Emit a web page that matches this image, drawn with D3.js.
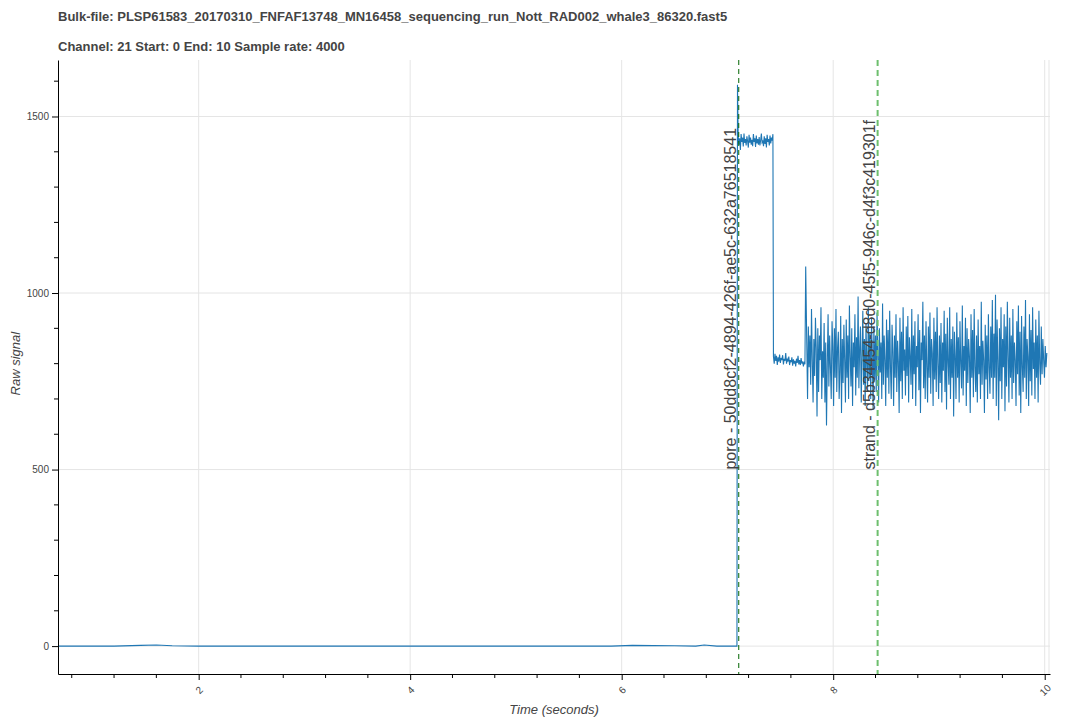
<!DOCTYPE html>
<html>
<head>
<meta charset="utf-8">
<script src="https://cdn.jsdelivr.net/npm/d3@7"></script>
<style>
  body { margin: 0; background: #fff; }
  text { font-family: "Liberation Sans", Helvetica, Arial, sans-serif; }
</style>
</head>
<body>
<svg id="chart" width="1080" height="720"></svg>
<script>
var titleText = 'Bulk-file: PLSP61583_20170310_FNFAF13748_MN16458_sequencing_run_Nott_RAD002_whale3_86320.fast5',
    subtitleText = 'Channel: 21 Start: 0 End: 10 Sample rate: 4000';

// open channel, before anything enters (time, signal)
var baseTimes = [0.67, 1.2, 1.45, 1.6, 1.75, 2.0, 3.0, 4.0, 5.0, 5.9, 6.1, 6.5, 6.7, 6.78, 6.9, 7.09];
var baseValues = [0, 0, 2, 3, 1, 0, 0, 0, 0, 0, 2, 1, 0, 3, 0, 0];

// open pore plateau, 7.095 -> 7.43 s
var poreStart = 7.095, poreEnd = 7.43;
var poreValues = [1590, 1445, 1420, 1438, 1405, 1450, 1428, 1440, 1415, 1452,
    1425, 1436, 1418, 1444, 1430, 1412, 1448, 1426, 1440, 1420,
    1434, 1416, 1450, 1428, 1438, 1414, 1446, 1424, 1436, 1420,
    1442, 1418, 1432, 1452, 1426, 1430, 1416, 1444, 1422, 1438,
    1412, 1448, 1428, 1436, 1418, 1446, 1424, 1440, 1432, 1450];

// lower step, 7.435 -> 7.74 s
var stepStart = 7.435, stepEnd = 7.74;
var stepValues = [820, 800, 828, 808, 822, 796, 818, 806, 826, 802,
    816, 810, 824, 798, 814, 808, 830, 800, 812, 806,
    820, 796, 810, 804, 818, 794, 812, 800, 808, 792,
    814, 802, 822, 798, 810, 796, 816, 800, 806, 792,
    806, 798, 1075];

// strand translocation, 7.75 -> 10.02 s
var strandStart = 7.75, strandEnd = 10.02;
var strandValues = [860, 700, 905, 790, 880, 740, 955, 812, 690, 870,
    765, 930, 845, 650, 900, 720, 880, 810, 960, 700,
    835, 760, 915, 690, 860, 625, 800, 940, 735, 880,
    790, 700, 920, 850, 680, 900, 760, 955, 720, 845,
    890, 700, 780, 935, 660, 870, 745, 910, 810, 690,
    925, 760, 880, 700, 965, 820, 735, 900, 680, 860,
    790, 940, 710, 875, 760, 990, 730, 845, 905, 690,
    820, 950, 740, 870, 680, 915, 800, 720, 960, 760,
    885, 700, 930, 820, 670, 905, 755, 880, 720, 945,
    830, 690, 900, 775, 860, 700, 970, 740, 880, 810,
    680, 925, 760, 895, 715,
    950, 790, 700, 910, 835, 680, 880, 760, 940, 720,
    865, 805, 660, 930, 750, 890, 700, 960, 780, 840,
    710, 905, 765, 935, 690, 875, 820, 740, 955, 700,
    880, 770, 920, 680, 850, 790, 940, 725, 895, 660,
    860, 810, 975, 730, 880, 700, 920, 790, 690, 905,
    760, 945, 715, 870, 830, 680, 930, 755, 890, 720,
    960, 800, 700, 880, 745,
    915, 690, 860, 780, 950, 720, 885, 670, 930, 805,
    740, 960, 700, 870, 760, 905, 650, 890, 820, 700,
    945, 760, 875, 690, 920, 800, 730, 965, 710, 850,
    780, 930, 680, 900, 745, 870, 820, 660, 940, 760,
    895, 705, 955, 790, 720, 880, 690, 925, 770, 850,
    700, 975, 740, 865, 810, 660, 910, 755, 880, 700,
    940, 790, 715, 905, 760,
    980, 700, 885, 760, 995, 680, 925, 810, 640, 900,
    750, 960, 700, 870, 790, 940, 665, 905, 735, 975,
    820, 690, 930, 760, 880, 700, 955, 745, 860, 810,
    680, 920, 770, 965, 710, 890, 660, 935, 790, 720,
    905, 760, 980, 700, 870, 820, 680, 940, 750, 895,
    710, 960, 785, 860, 700, 925, 760, 880, 690, 950,
    800, 740, 905, 770, 870, 810, 760, 850, 790, 830];

// event markers
var eventNames = ['pore - 50dd8cf2-4894-426f-ae5c-632a76518541', 'strand - d5b34454-d8d0-45f5-946c-d4f3c419301f'];
var eventTimes = [7.107, 8.42];

var xTicks = [2, 4, 6, 8, 10],
    yTicks = [0, 500, 1000, 1500];

var margin = {top: 60, right: 30, bottom: 46, left: 58},
    width = 1080 - margin.left - margin.right,
    height = 720 - margin.top - margin.bottom;

var svg = d3.select('#chart');

/**
 * spread a run of samples evenly between two times
 */
var spread = function (start, end, values) {
    return values.map(function (v, i) {
        return [start + i * (end - start) / (values.length - 1), v];
    });
};

var data = baseTimes.map(function (t, i) { return [t, baseValues[i]]; })
    .concat(spread(poreStart, poreEnd, poreValues))
    .concat(spread(stepStart, stepEnd, stepValues))
    .concat(spread(strandStart, strandEnd, strandValues));

var x = d3.scaleLinear().domain([0.67, 10.05]).range([0, width]),
    y = d3.scaleLinear().domain([-79, 1660]).range([height, 0]);

// titles
svg.append('text').attr('x', 58).attr('y', 21)
    .style('font-size', '13px').style('font-weight', 'bold').style('fill', '#444')
    .text(titleText);
svg.append('text').attr('x', 58).attr('y', 51)
    .style('font-size', '13px').style('font-weight', 'bold').style('fill', '#444')
    .text(subtitleText);

var g = svg.append('g').attr('transform', 'translate(' + margin.left + ',' + margin.top + ')');

g.append('defs').append('clipPath').attr('id', 'clip')
    .append('rect').attr('width', width).attr('height', height);

// grid
g.selectAll('.xgrid').data(xTicks).enter().append('line')
    .attr('x1', x).attr('x2', x).attr('y1', 0).attr('y2', height)
    .style('stroke', '#e5e5e5');
g.selectAll('.ygrid').data(yTicks).enter().append('line')
    .attr('y1', y).attr('y2', y).attr('x1', 0).attr('x2', width)
    .style('stroke', '#e5e5e5');
g.append('line').attr('x1', width - 1).attr('x2', width - 1).attr('y1', 0).attr('y2', height)
    .style('stroke', '#e5e5e5');

var plot = g.append('g').attr('clip-path', 'url(#clip)');

plot.append('path').datum(data)
    .attr('d', d3.line().x(function (d) { return x(d[0]); }).y(function (d) { return y(d[1]); }))
    .style('fill', 'none').style('stroke', '#1f77b4').style('stroke-width', 1.1);

// event lines
plot.append('line')
    .attr('x1', x(eventTimes[0])).attr('x2', x(eventTimes[0])).attr('y1', 0).attr('y2', height)
    .style('stroke', 'darkgreen').style('stroke-width', 1).style('stroke-dasharray', '5,4');
plot.append('line')
    .attr('x1', x(eventTimes[1])).attr('x2', x(eventTimes[1])).attr('y1', 0).attr('y2', height)
    .style('stroke', '#6dbf6d').style('stroke-width', 2).style('stroke-dasharray', '6,4');

g.selectAll('.evlabel').data(eventNames).enter().append('text')
    .attr('transform', function (d, i) {
        return 'translate(' + (x(eventTimes[i]) - 3) + ',' + y(500) + ') rotate(-90)';
    })
    .style('font-size', '16px').style('fill', '#444')
    .text(function (d) { return d; });

// axes
var xAxis = g.append('g').attr('transform', 'translate(0,' + height + ')')
    .call(d3.axisBottom(x).tickValues(xTicks).tickSizeInner(6).tickSizeOuter(0).tickFormat(d3.format('d')));
xAxis.append('g').selectAll('line').data(d3.range(0.8, 10.05, 0.4).filter(function (v) {
        return Math.abs(v / 2 - Math.round(v / 2)) > 0.01;
    })).enter().append('line')
    .attr('x1', x).attr('x2', x).attr('y1', 0).attr('y2', 4).style('stroke', '#000');
xAxis.selectAll('.tick text')
    .attr('y', 0).attr('dy', '0.35em')
    .attr('transform', 'translate(0,16) rotate(-45)')
    .style('text-anchor', 'middle');

var yAxis = g.append('g')
    .call(d3.axisLeft(y).tickValues(yTicks).tickSizeInner(6).tickSizeOuter(0).tickFormat(d3.format('d')));
yAxis.append('g').selectAll('line').data(d3.range(-0, 1601, 100).filter(function (v) { return v % 500; }))
    .enter().append('line')
    .attr('y1', y).attr('y2', y).attr('x1', 0).attr('x2', -4).style('stroke', '#000');

[xAxis, yAxis].forEach(function (a) {
    a.select('.domain').style('stroke', '#000');
    a.selectAll('.tick text').style('font-size', '10px').style('fill', '#444');
});

// axis labels
svg.append('text').attr('x', margin.left + width / 2).attr('y', 714)
    .style('font-size', '13px').style('font-style', 'italic').style('fill', '#444')
    .style('text-anchor', 'middle').text('Time (seconds)');
svg.append('text').attr('transform', 'translate(20,' + (margin.top + y(800)) + ') rotate(-90)')
    .style('font-size', '13px').style('font-style', 'italic').style('fill', '#444')
    .style('text-anchor', 'middle').text('Raw signal');
</script>
</body>
</html>
